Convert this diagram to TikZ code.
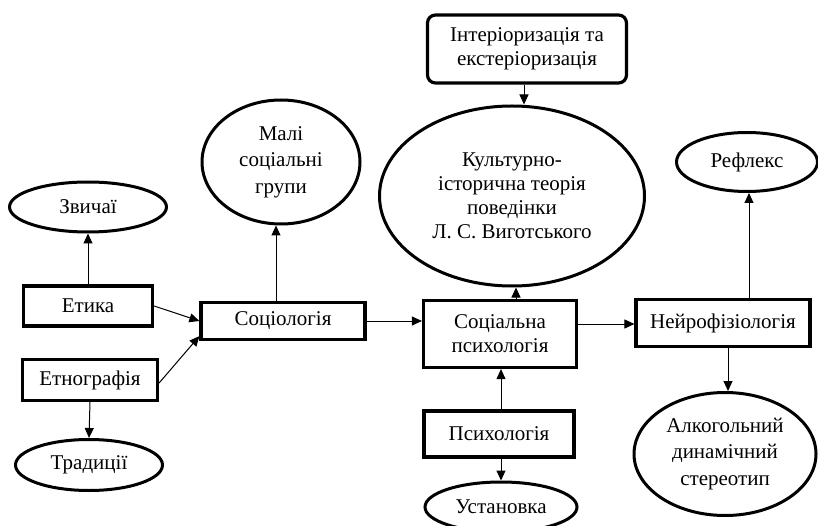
\documentclass[tikz,border=0pt]{standalone}
\usepackage{fontspec}
\setmainfont{Liberation Serif}
\usetikzlibrary{shapes.geometric,arrows.meta}
\begin{document}
\begin{tikzpicture}[x=1pt,y=-1pt,
  every node/.style={font=\fontsize{21}{24}\selectfont, align=center, inner sep=0pt},
  wide/.style={font=\fontsize{21}{26.5}\selectfont},
  box/.style={draw, line width=3.2pt, rectangle},
  rbox/.style={draw, line width=3.2pt, rectangle, rounded corners=8pt},
  oval/.style={draw, line width=3pt, ellipse},
  arr/.style={line width=1pt, -{Triangle[length=10pt,width=9pt]}}]
\useasboundingbox (0,0) rectangle (818,526);
\fill[white] (0,0) rectangle (818,526);
% nodes
\node[oval, minimum width=157, minimum height=50] (zv) at (88,207) {Звичаї};
\node[box, minimum width=129, minimum height=40] (et) at (88,306) {Етика};
\node[box, minimum width=135, minimum height=41] (etn) at (90,380) {Етнографія};
\node[oval, minimum width=147, minimum height=51] (tr) at (89,465) {Традиції};
\node[box, minimum width=164, minimum height=37] (soc) at (283,321) {Соціологія};
\node[oval, wide, minimum width=158, minimum height=124] (mal) at (281,162) {Малі\\соціальні\\групи};
\node[box, minimum width=153, minimum height=67] (sp) at (500,334) {Соціальна\\психологія};
\node[oval, minimum width=265, minimum height=180] (kul) at (512,196) {Культурно-\\історична теорія\\поведінки\\Л. С. Виготського};
\node[rbox, minimum width=199, minimum height=68] (int) at (527,49) {Інтеріоризація та\\екстеріоризація};
\node[box, minimum width=150, minimum height=46] (ps) at (499,434) {Психологія};
\node[oval, minimum width=152, minimum height=50] (ust) at (501,507) {Установка};
\node[box, minimum width=174, minimum height=47] (nf) at (723,323) {Нейрофізіологія};
\node[oval, minimum width=141, minimum height=59] (ref) at (747,162) {Рефлекс};
\node[oval, wide, minimum width=182, minimum height=123] (alk) at (725,454) {Алкогольний\\динамічний\\стереотип};
% connectors
\draw[arr] (et.north) -- (zv.south);
\draw[arr] (etn.south) -- (tr.north);
\draw[arr] (et.east) -- (soc.west);
\draw[arr] ([yshift=-3pt]etn.east) -- ([yshift=5pt]soc.south west);
\draw[arr] (soc.north -| 276,0) -- (mal.south -| 276,0);
\draw[arr] (soc.east) -- (sp.west |- soc.east);
\draw[arr] (int.south -| 524,0) -- (kul.north -| 524,0);
\draw[arr] (sp.north -| 516,0) -- (kul.south -| 516,0);
\draw[arr] (ps.north -| 501,0) -- (sp.south -| 501,0);
\draw[arr] (ps.south -| 501,0) -- (ust.north -| 501,0);
\draw[arr] (sp.east |- 0,324) -- (nf.west |- 0,324);
\draw[arr] (nf.north -| 749,0) -- (ref.south -| 749,0);
\draw[arr] (nf.south -| 728,0) -- (alk.north -| 728,0);
\end{tikzpicture}
\end{document}
